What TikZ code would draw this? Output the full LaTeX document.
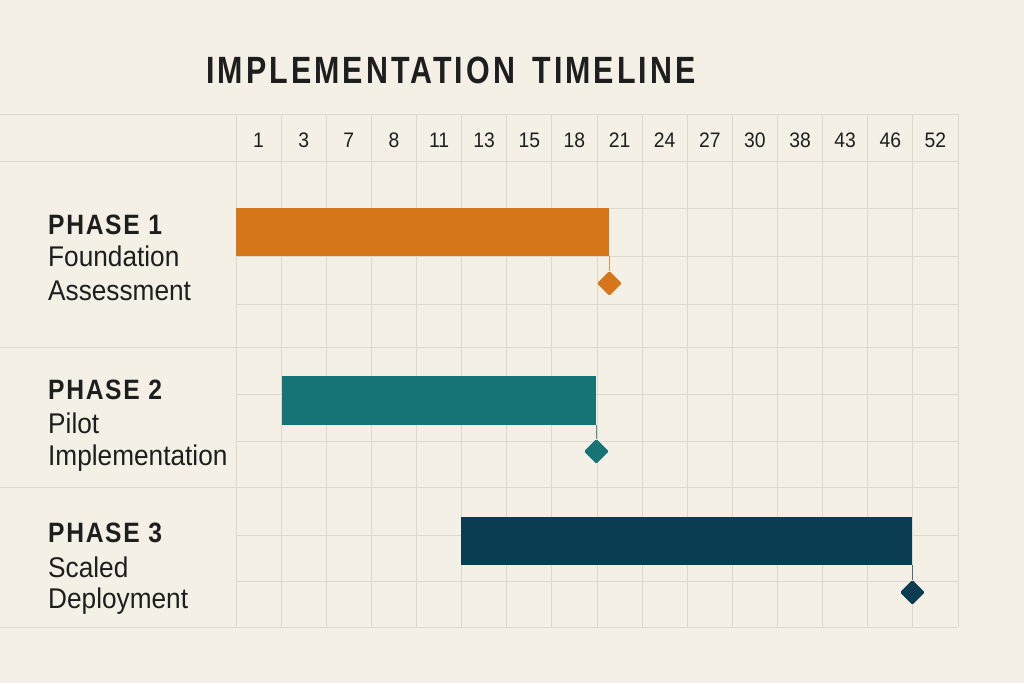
\documentclass[tikz,border=0pt]{standalone}
\usepackage{fontspec}
\setmainfont{Liberation Sans}[FakeStretch=0.92]
\newfontfamily\titlefont{Liberation Sans}[FakeStretch=0.8,LetterSpace=8]
\newfontfamily\headfont{Liberation Sans}[FakeStretch=0.88,LetterSpace=6]
\usetikzlibrary{shapes.geometric}
\definecolor{paper}{HTML}{F4F0E6}
\definecolor{gridline}{HTML}{DDD8CC}
\definecolor{ink}{HTML}{1E1E1E}
\definecolor{phaseorange}{HTML}{D5761B}
\definecolor{phaseteal}{HTML}{177476}
\definecolor{phasenavy}{HTML}{0A3D52}
\tikzset{
  gridln/.style={gridline,line width=0.8pt},
  bar/.style={rectangle,fill=#1,draw=none,inner sep=0pt,anchor=north west},
  milestone/.style={diamond,fill=#1,draw=none,inner sep=0pt,minimum size=25pt,rounded corners=1.5pt},
  tick/.style={#1,line width=0.7pt},
  daylabel/.style={text=ink,font=\fontsize{21}{21}\selectfont,inner sep=0pt},
  phasehead/.style={text=ink,font=\headfont\bfseries\fontsize{28}{28}\selectfont,inner sep=0pt,anchor=base west},
  phasetext/.style={text=ink,font=\fontsize{28.5}{28.5}\selectfont,inner sep=0pt,anchor=base west}
}
\begin{document}
\begin{tikzpicture}[x=1pt,y=-1pt,line cap=butt]
  % background and frame
  \fill[paper] (0,0) rectangle (1024,683);
  \useasboundingbox (0,0) rectangle (1024,683);
  % title
  \node[text=ink,font=\titlefont\bfseries\fontsize{38}{38}\selectfont,inner sep=0pt,anchor=base] (title) at (451,83) {IMPLEMENTATION\hspace{6pt} TIMELINE};
  % grid
  \foreach \i in {0,...,16} \draw[gridln] ({236+\i*45.125},114) -- ({236+\i*45.125},627);
  \foreach \y in {114,161,347,487,627} \draw[gridln] (0,\y) -- (958,\y);
  \foreach \y in {208,256,304,394,441,535,581} \draw[gridln] (236,\y) -- (958,\y);
  % week numbers
  \foreach \lbl [count=\i from 0] in {1,3,7,8,11,13,15,18,21,24,27,30,38,43,46,52}
    \node[daylabel] (d\i) at ({236+(\i+0.5)*45.125},140) {\lbl};
  % phase labels
  \node[phasehead] (ph1) at (48,234) {PHASE 1};
  \node[phasetext] (ph1a) at (48,266) {Foundation};
  \node[phasetext] (ph1b) at (48,300) {Assessment};
  \node[phasehead] (ph2) at (48,399) {PHASE 2};
  \node[phasetext] (ph2a) at (48,433) {Pilot};
  \node[phasetext] (ph2b) at (48,465) {Implementation};
  \node[phasehead] (ph3) at (48,542) {PHASE 3};
  \node[phasetext] (ph3a) at (48,577) {Scaled};
  \node[phasetext] (ph3b) at (48,608) {Deployment};
  % bars
  \node[bar=phaseorange,minimum width=373pt,minimum height=48pt] (bar1) at (236,208) {};
  \node[bar=phaseteal,minimum width=314pt,minimum height=49pt] (bar2) at (282,376) {};
  \node[bar=phasenavy,minimum width=451pt,minimum height=48pt] (bar3) at (461,517) {};
  % milestones
  \node[milestone=phaseorange] (ms1) at ([yshift=-27pt]bar1.south east) {};
  \node[milestone=phaseteal] (ms2) at ([yshift=-26pt]bar2.south east) {};
  \node[milestone=phasenavy] (ms3) at ([yshift=-27pt]bar3.south east) {};
  \draw[tick=phaseorange!70!gridline] (bar1.south east) -- (ms1.north);
  \draw[tick=phaseteal!70!gridline] (bar2.south east) -- (ms2.north);
  \draw[tick=phasenavy!70!gridline] (bar3.south east) -- (ms3.north);
\end{tikzpicture}
\end{document}
